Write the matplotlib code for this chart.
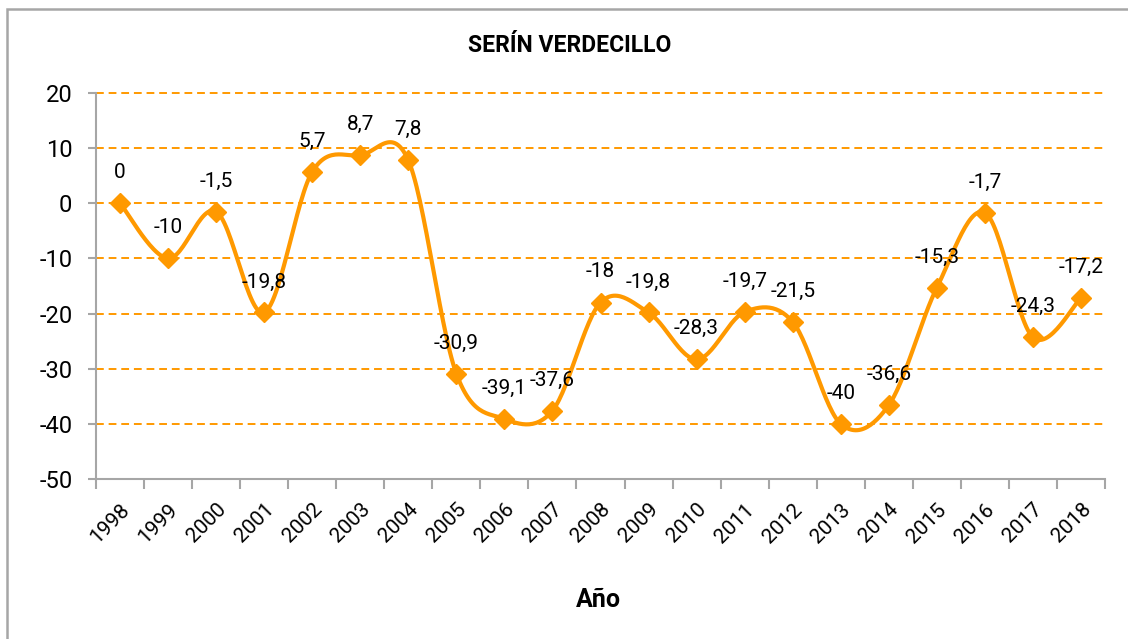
import matplotlib
matplotlib.use("Agg")
import matplotlib.pyplot as plt
from matplotlib.patches import Rectangle
import numpy as np

plt.rcParams['font.family'] = ['Roboto', 'DejaVu Sans']

years = [str(y) for y in range(1998, 2019)]
values = [0, -10, -1.5, -19.8, 5.7, 8.7, 7.8, -30.9, -39.1, -37.6, -18,
          -19.8, -28.3, -19.7, -21.5, -40, -36.6, -15.3, -1.7, -24.3, -17.2]
y_ticks = [20, 10, 0, -10, -20, -30, -40, -50]

orange = "#FF9900"
gray = "#A6A6A6"


def smooth(xs, ys, n=30):
    # cubic bezier through the points, control points from neighbours
    xs = np.asarray(xs, float)
    ys = np.asarray(ys, float)
    px = np.concatenate([[xs[0]], xs, [xs[-1]]])
    py = np.concatenate([[ys[0]], ys, [ys[-1]]])
    out_x, out_y = [], []
    t = np.linspace(0, 1, n)
    for i in range(1, len(px) - 2):
        p0 = np.array([px[i], py[i]])
        p3 = np.array([px[i + 1], py[i + 1]])
        c1 = p0 + (np.array([px[i + 1], py[i + 1]]) - np.array([px[i - 1], py[i - 1]])) / 6
        c2 = p3 - (np.array([px[i + 2], py[i + 2]]) - np.array([px[i], py[i]])) / 6
        b = ((1 - t) ** 3)[:, None] * p0 + (3 * (1 - t) ** 2 * t)[:, None] * c1 \
            + (3 * (1 - t) * t ** 2)[:, None] * c2 + (t ** 3)[:, None] * p3
        out_x.extend(b[:, 0])
        out_y.extend(b[:, 1])
    return out_x, out_y


fig = plt.figure(figsize=(11.28, 6.39), dpi=100)
fig.patches.append(Rectangle((7 / 1128, -0.01), 1.2, (639 - 9) / 639 + 0.01,
                             transform=fig.transFigure, fill=False,
                             edgecolor=gray, linewidth=1.8))

ax = fig.add_axes([96 / 1128, 160 / 639, (1105 - 96) / 1128, (479 - 93) / 639])
x = np.arange(len(years))

sx, sy = smooth(x, values)
ax.plot(sx, sy, color=orange, linewidth=3, zorder=3)
ax.plot(x, values, linestyle="none", marker="D", markersize=10,
        color=orange, zorder=4)

for xi, v in zip(x, values):
    lbl = "{:g}".format(v).replace(".", ",")
    ax.annotate(lbl, (xi, v), xytext=(0, 22), textcoords="offset points",
                ha="center", va="center", fontsize=15, zorder=5)

ax.set_xlim(-0.5, len(years) - 0.5)
ax.set_ylim(-50, 20)
ax.set_yticks(y_ticks)
ax.set_yticklabels([str(v) for v in y_ticks], fontsize=17)
for v in y_ticks[:-1]:
    ax.axhline(v, color=orange, linestyle=(0, (4, 2.5)), linewidth=1.4,
               zorder=1, clip_on=False)

ax.set_xticks(np.arange(-0.5, len(years), 1.0))
ax.set_xticklabels([])
ax.set_xticks(x, minor=True)
ax.set_xticklabels(years, minor=True, rotation=45, ha="right",
                   rotation_mode="anchor", fontsize=15)
ax.tick_params(axis="x", which="minor", length=0, pad=15)
ax.tick_params(axis="x", which="major", length=7, color=gray, width=1.5)
ax.tick_params(axis="y", length=6, color=gray, width=1.5, pad=11)

for s in ["top", "right"]:
    ax.spines[s].set_visible(False)
for s in ["left", "bottom"]:
    ax.spines[s].set_color(gray)
    ax.spines[s].set_linewidth(1.5)

fig.text(570 / 1128, 1 - 45 / 639, "SERÍN VERDECILLO", ha="center", va="center",
         fontsize=16.5, fontweight="bold")
fig.text(598 / 1128, 1 - 600 / 639, "Año", ha="center", va="center",
         fontsize=18, fontweight="bold")

fig.savefig("out.png", dpi=100)
